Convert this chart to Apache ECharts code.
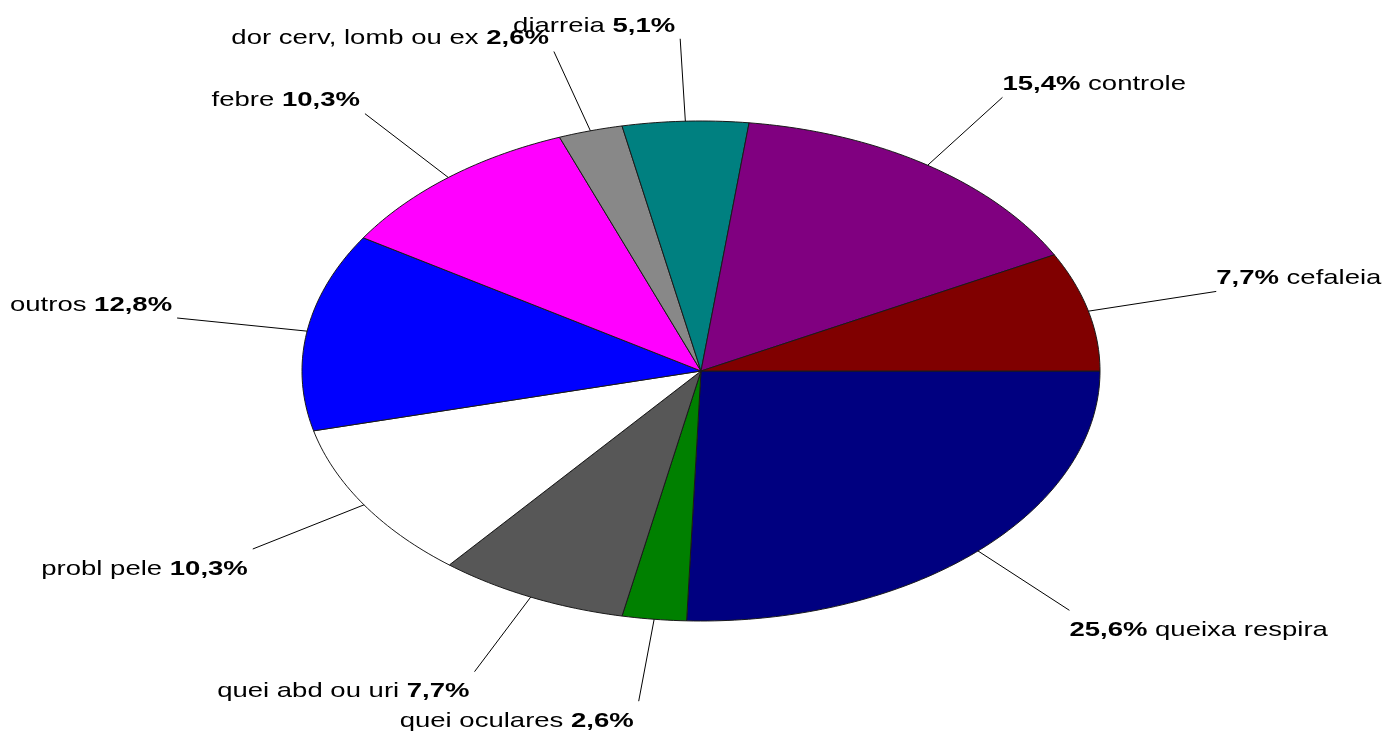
<!DOCTYPE html>
<html>
<head>
<meta charset="utf-8">
<script src="https://cdn.jsdelivr.net/npm/echarts@6/dist/echarts.min.js"></script>
<style>
  html, body { margin: 0; padding: 0; background: #fff; }
  #chart { width: 1391px; height: 741px; }
</style>
</head>
<body>
<div id="chart"></div>
<script>
// Slices, clockwise from 3 o'clock
const categories = ['queixa respira', 'quei oculares', 'quei abd ou uri', 'probl pele', 'outros',
                    'febre', 'dor cerv, lomb ou ex', 'diarreia', 'controle', 'cefaleia'];
const values = [25.6, 2.6, 7.7, 10.3, 12.8, 10.3, 2.6, 5.1, 15.4, 7.7];
const colors = ['#000080', '#008000', '#575757', '#ffffff', '#0000ff',
                '#ff00ff', '#888888', '#008080', '#800080', '#800000'];

// Elliptical pie geometry
const CX = 701, CY = 371, RX = 399, RY = 250, LABEL_SCALE = 1.33;
const FONT = '"Liberation Sans", Arial, sans-serif';

const total = values.reduce((a, b) => a + b, 0);
const starts = [];
let acc = 0;
values.forEach(v => { starts.push(acc); acc += v; });
const fmt = v => v.toFixed(1).replace('.', ',') + '%';

function renderItem(params, api) {
  const i = params.dataIndex;
  const v = api.value(0);
  const a0 = starts[i] / total * 2 * Math.PI;
  const a1 = (starts[i] + v) / total * 2 * Math.PI;
  const pts = [[CX, CY]];
  const n = Math.max(2, Math.ceil((a1 - a0) * 180 / Math.PI));
  for (let k = 0; k <= n; k++) {
    const t = a0 + (a1 - a0) * k / n;
    pts.push([CX + RX * Math.cos(t), CY + RY * Math.sin(t)]);
  }
  const mid = (a0 + a1) / 2, c = Math.cos(mid), s = Math.sin(mid);
  const p0 = [CX + RX * c, CY + RY * s];
  const p1 = [CX + RX * LABEL_SCALE * c, CY + RY * LABEL_SCALE * s];
  const right = c > 0, upper = s < 0;
  const text = right
    ? '{b|' + fmt(v) + '}{n| ' + categories[i] + '}'
    : '{n|' + categories[i] + ' }{b|' + fmt(v) + '}';
  return {
    type: 'group',
    children: [
      {
        type: 'polygon',
        shape: { points: pts },
        style: { fill: colors[i], stroke: '#1a1a1a', lineWidth: 1 }
      },
      {
        type: 'polyline',
        shape: { points: [p0, p1] },
        style: { stroke: '#000', lineWidth: 1, fill: 'none' }
      },
      {
        type: 'text',
        x: p1[0] + (right ? 0 : -5),
        y: p1[1] + (upper ? -13 : 20),
        scaleX: 1.31,
        style: {
          text: text,
          align: right ? 'left' : 'right',
          verticalAlign: 'middle',
          rich: {
            n: { fontSize: 21, fontFamily: FONT, color: '#1a1a1a' },
            b: { fontSize: 21, fontFamily: FONT, fontWeight: 'bold', color: '#1a1a1a' }
          }
        }
      }
    ]
  };
}

const chart = echarts.init(document.getElementById('chart'), null, { renderer: 'canvas' });
chart.setOption({
  backgroundColor: '#ffffff',
  animation: false,
  series: [{
    type: 'custom',
    coordinateSystem: 'none',
    renderItem: renderItem,
    data: values.map((v, i) => ({ name: categories[i], value: [v] }))
  }]
});
</script>
</body>
</html>
